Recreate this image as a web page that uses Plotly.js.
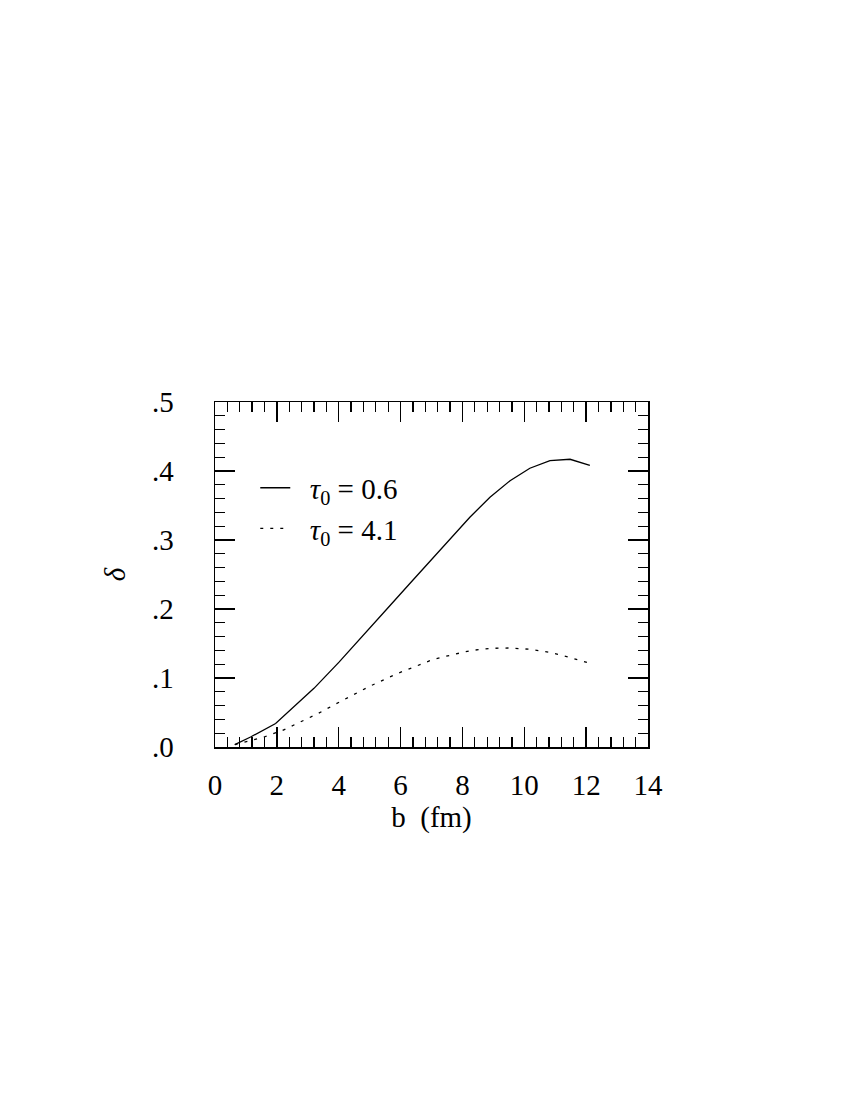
<!DOCTYPE html>
<html>
<head>
<meta charset="utf-8">
<script src="https://cdn.plot.ly/plotly-3.0.1.min.js"></script>
<style>html,body{margin:0;padding:0;background:#fff;}#chart{width:850px;height:1100px;}</style>
</head>
<body>
<div id="chart"></div>
<script>
// impact parameter b (fm) and asymmetry delta, tau0 = 0.6
var bSolid = [0.64, 1.15, 1.96, 2.55, 3.2, 4.01, 4.82, 5.66, 6.30, 6.95, 7.60, 8.24, 8.89, 9.54, 10.18, 10.83, 11.48, 12.12];
var deltaSolid = [0.0035, 0.0145, 0.034, 0.058, 0.085, 0.123, 0.164, 0.205, 0.237, 0.269, 0.300, 0.333, 0.362, 0.386, 0.404, 0.415, 0.417, 0.408];
// tau0 = 4.1
var bDotted = [0.64, 1.1, 1.58, 2.18, 2.77, 3.31, 3.85, 4.44, 5.0, 5.87, 6.5, 7.06, 7.7, 8.30, 8.94, 9.55, 10.18, 10.83, 11.46, 12.07];
var deltaDotted = [0.0035, 0.009, 0.0145, 0.024, 0.036, 0.048, 0.061, 0.075, 0.088, 0.106, 0.117, 0.127, 0.134, 0.140, 0.143, 0.1435, 0.1416, 0.137, 0.130, 0.122];

var legendNames = ["&nbsp;&nbsp;<i>τ</i><sub>0</sub> = 0.6", "&nbsp;&nbsp;<i>τ</i><sub>0</sub> = 4.1"];
var xTickVals = [0, 2, 4, 6, 8, 10, 12, 14];
var xTickText = ["0", "2", "4", "6", "8", "10", "12", "14"];
var yTickVals = [0, 0.1, 0.2, 0.3, 0.4, 0.5];
var yTickText = [".0", ".1", ".2", ".3", ".4", ".5"];

var fontFam = "Liberation Serif, DejaVu Serif, serif";

var traces = [
  {x: bSolid, y: deltaSolid, mode: "lines", name: legendNames[0],
   line: {color: "black", width: 1.3}},
  {x: bDotted, y: deltaDotted, mode: "lines", name: legendNames[1],
   line: {color: "black", width: 1.3, dash: "3px,7px"}}
];

var axisCommon = {
  showline: true, linecolor: "black", linewidth: 1.5, mirror: "allticks",
  ticks: "inside", ticklen: 20, tickwidth: 1.3, tickcolor: "black",
  showgrid: false, zeroline: false,
  tickfont: {family: fontFam, size: 29, color: "black"}
};

var layout = {
  width: 850, height: 1100,
  margin: {l: 215, r: 202, t: 402, b: 353},
  paper_bgcolor: "white", plot_bgcolor: "white",
  font: {family: fontFam, color: "black"},
  showlegend: true,
  legend: {x: 0.093, y: 0.825, xanchor: "left", yanchor: "top", tracegroupgap: 0,
           bgcolor: "rgba(0,0,0,0)", font: {family: fontFam, size: 29, color: "black"}},
  xaxis: Object.assign({}, axisCommon, {
    range: [0, 14], tickmode: "array", tickvals: xTickVals, ticktext: xTickText,
    ticklabelstandoff: 12,
    minor: {dtick: 0.4, tick0: 0, ticks: "inside", ticklen: 10, tickwidth: 1.3, tickcolor: "black", showgrid: false},
    title: {text: "b  (fm)", font: {family: fontFam, size: 29, color: "black"}, standoff: 0}
  }),
  yaxis: Object.assign({}, axisCommon, {
    range: [0, 0.5], tickmode: "array", tickvals: yTickVals, ticktext: yTickText,
    ticklabelstandoff: 34,
    minor: {dtick: 0.02, tick0: 0, ticks: "inside", ticklen: 10, tickwidth: 1.3, tickcolor: "black", showgrid: false},
    title: {text: "<i>δ</i>", font: {family: fontFam, size: 29, color: "black"}, standoff: 18}
  })
};

Plotly.newPlot("chart", traces, layout, {staticPlot: true, displayModeBar: false});
</script>
</body>
</html>
